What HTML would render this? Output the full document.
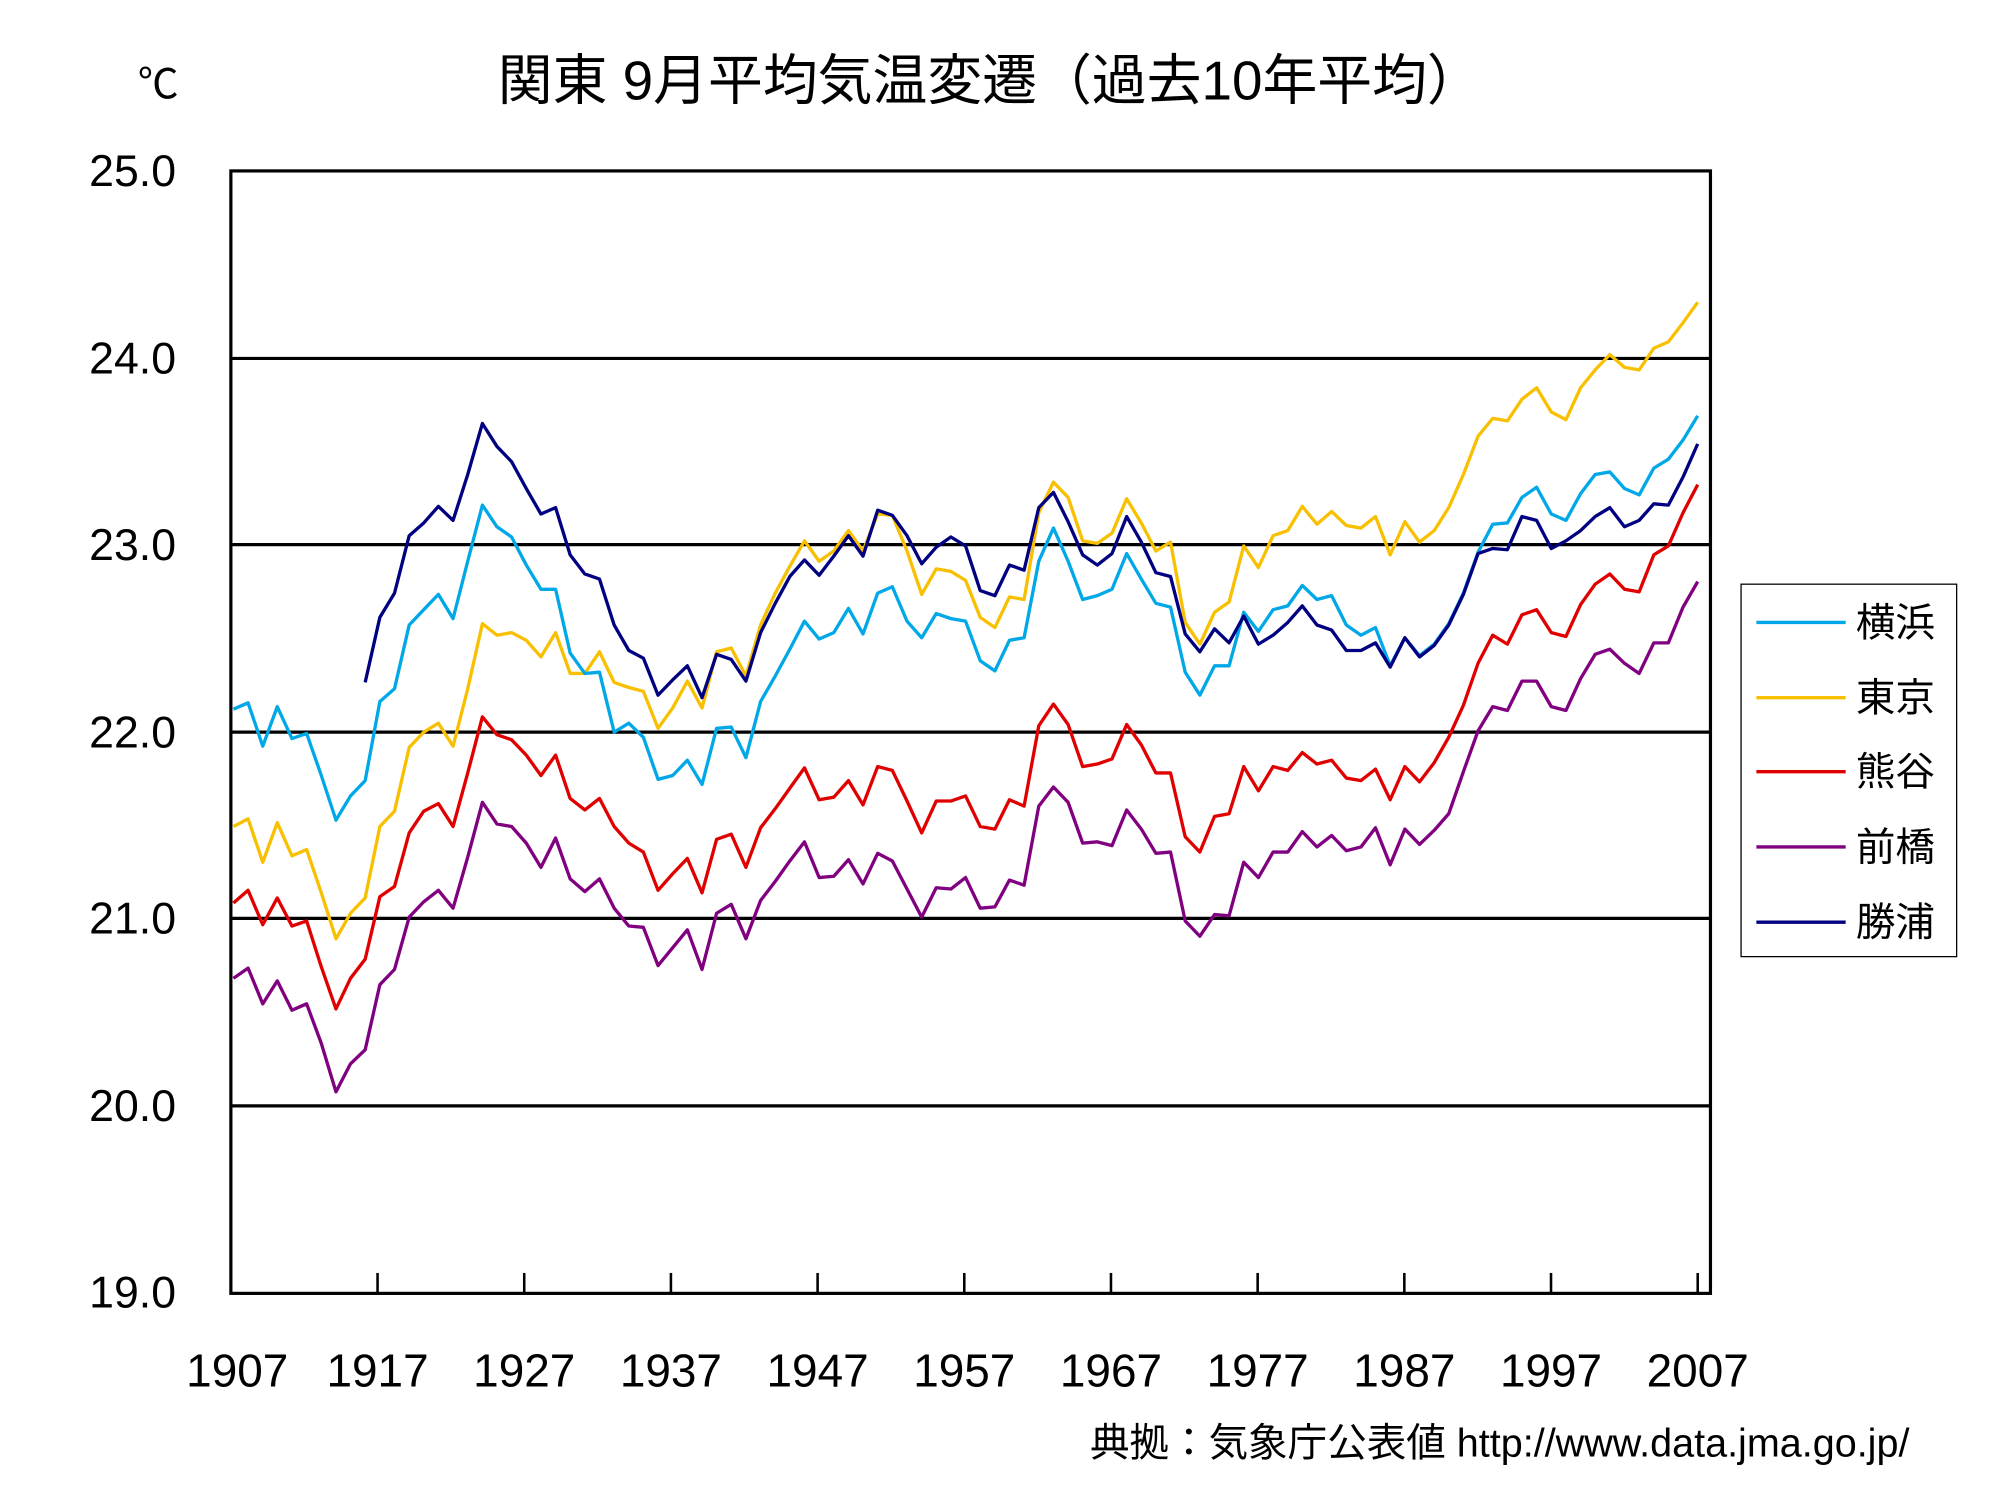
<!DOCTYPE html>
<html><head><meta charset="utf-8"><style>
html,body{margin:0;padding:0;background:#fff}
svg{display:block}
text{font-family:"Liberation Sans","Noto Sans CJK JP",sans-serif;fill:#000}
</style></head><body>
<svg id="c" width="2000" height="1500" viewBox="0 0 1568 1176" xmlns="http://www.w3.org/2000/svg">
<rect width="1568" height="1176" fill="#fff"/>
<text x="776" y="78" font-size="43" text-anchor="middle">関東 9月平均気温変遷（過去10年平均）</text>
<text x="124" y="77" font-size="32" text-anchor="middle">℃</text>
<g stroke="#000" stroke-width="2.5">
<line x1="181" y1="281" x2="1341" y2="281"/>
<line x1="181" y1="427" x2="1341" y2="427"/>
<line x1="181" y1="574" x2="1341" y2="574"/>
<line x1="181" y1="720" x2="1341" y2="720"/>
<line x1="181" y1="867" x2="1341" y2="867"/>
</g>
<g id="ticks" stroke="#000" stroke-width="2"></g>
<g font-size="35" text-anchor="end">
<text x="138" y="146">25.0</text>
<text x="138" y="293">24.0</text>
<text x="138" y="439">23.0</text>
<text x="138" y="586">22.0</text>
<text x="138" y="732">21.0</text>
<text x="138" y="879">20.0</text>
<text x="138" y="1025">19.0</text>
</g>
<g id="xl" font-size="36" text-anchor="middle"></g>
<g id="series" fill="none" stroke-width="2.6" stroke-linejoin="round"></g>
<rect x="181" y="134" width="1160" height="880" fill="none" stroke="#000" stroke-width="2.5"/>
<rect x="1365" y="458" width="169" height="292" fill="#fff" stroke="#000" stroke-width="1"/>
<g stroke-width="2.6">
<line x1="1377" y1="488" x2="1447" y2="488" stroke="#00a8e8"/>
<line x1="1377" y1="547" x2="1447" y2="547" stroke="#f8c000"/>
<line x1="1377" y1="605" x2="1447" y2="605" stroke="#e00000"/>
<line x1="1377" y1="664" x2="1447" y2="664" stroke="#800080"/>
<line x1="1377" y1="723" x2="1447" y2="723" stroke="#000080"/>
</g>
<g font-size="31">
<text x="1455" y="499">横浜</text>
<text x="1455" y="558">東京</text>
<text x="1455" y="616">熊谷</text>
<text x="1455" y="675">前橋</text>
<text x="1455" y="734">勝浦</text>
</g>
<text x="1497" y="1142" font-size="31" text-anchor="end">典拠：気象庁公表値 http://www.data.jma.go.jp/</text>
</svg>
<script>
var NS="http://www.w3.org/2000/svg";
function X(i){return 183+11.48*i;}
var t=document.getElementById('ticks'),xl=document.getElementById('xl');
for(var k=0;k<=10;k++){
 var x=181+k*115;
 if(k>0){var l=document.createElementNS(NS,'line');l.setAttribute('x1',x);l.setAttribute('x2',x);l.setAttribute('y1',998);l.setAttribute('y2',1014);t.appendChild(l);}
 var tx=document.createElementNS(NS,'text');tx.setAttribute('x',k==0?186:x);tx.setAttribute('y',1087);tx.textContent=1907+k*10;xl.appendChild(tx);
}
var S=[
["#f8c000",0,[648,642,676,645,671,666,700,736,716,704,648,636,586,574,567,585,540,489,498,496,502,515,496,528,528,511,535,539,542,571,555,534,555,511,508,530,490,465,444,424,440,432,416,432,403,404,432,466,446,448,455,484,492,468,470,402,378,390,424,426,418,391,410,432,425,488,505,480,472,428,445,420,416,397,411,401,412,414,405,435,409,425,416,398,372,342,328,330,313,304,323,329,304,290,278,288,290,273,268,253,237]],
["#00a8e8",0,[556,551,585,554,579,575,608,643,624,612,550,540,490,478,466,485,440,396,413,421,443,462,462,512,528,527,574,567,578,611,608,596,615,571,570,594,550,530,509,487,501,496,477,497,465,460,487,500,481,485,487,518,526,502,500,440,414,440,470,467,462,434,454,473,476,527,545,522,522,480,495,478,475,459,470,467,490,498,492,522,500,514,505,489,465,433,411,410,390,382,403,408,387,372,370,383,388,367,360,345,326]],
["#e00000",0,[708,698,725,704,726,722,758,791,767,752,703,695,653,636,630,648,606,562,576,580,592,608,592,626,635,626,648,661,668,698,685,673,700,658,654,680,649,634,618,602,627,625,612,631,601,604,628,653,628,628,624,648,650,627,632,569,552,568,601,599,595,568,584,606,606,656,668,640,638,601,620,601,604,590,599,596,610,612,603,627,601,613,598,578,553,520,498,505,482,478,496,499,474,458,450,462,464,435,428,402,380]],
["#800080",0,[767,759,787,769,792,787,818,856,834,823,772,760,719,707,698,712,672,629,646,648,661,680,657,689,699,689,712,726,727,757,743,729,760,716,709,736,706,691,675,660,688,687,674,693,669,675,697,719,696,697,688,712,711,690,694,632,617,629,661,660,663,635,650,669,668,722,734,717,718,676,688,668,668,652,664,655,667,664,649,678,650,662,651,638,605,573,554,557,534,534,554,557,532,513,509,520,528,504,504,476,456]],
["#000080",9,[535,484,465,420,410,397,408,372,332,350,362,383,403,398,435,450,454,490,510,516,545,533,522,547,513,517,534,496,473,452,439,451,436,420,436,400,404,420,442,429,421,428,463,467,443,447,398,386,409,435,443,434,405,425,449,452,497,511,493,504,483,505,498,488,475,490,494,510,510,504,523,500,515,506,490,466,434,430,431,405,408,430,424,416,405,398,413,408,395,396,374,348]]
];
var g=document.getElementById('series');
S.forEach(function(s){var p=s[2].map(function(y,i){return X(i+s[1]).toFixed(1)+","+y;}).join(" ");
var pl=document.createElementNS(NS,'polyline');pl.setAttribute('points',p);pl.setAttribute('stroke',s[0]);g.appendChild(pl);});
</script>
</body></html>
